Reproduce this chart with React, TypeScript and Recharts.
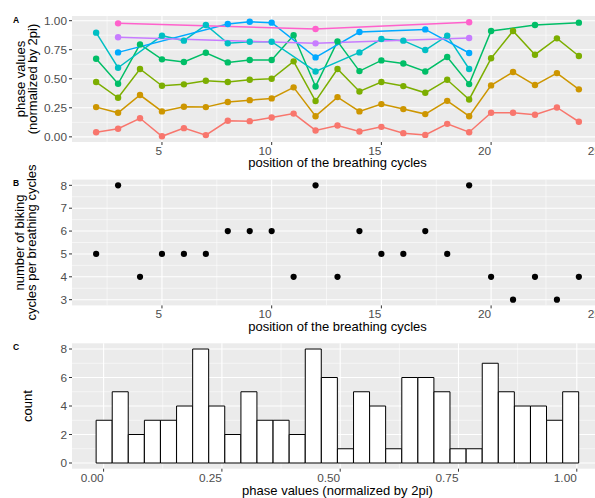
import React from 'react';
import {
  LineChart,
  Line,
  XAxis,
  YAxis,
  CartesianGrid,
  ScatterChart,
  Scatter,
  BarChart,
  Bar,
  Label,
} from 'recharts';

// ---------- data ----------
const positions = [2, 3, 4, 5, 6, 7, 8, 9, 10, 11, 12, 13, 14, 15, 16, 17, 18, 19, 20, 21, 22, 23, 24];

const cycle1 = [0.04, 0.07, 0.16, 0.005, 0.075, 0.015, 0.138, 0.135, 0.167, 0.2, 0.055, 0.098, 0.046, 0.086, 0.032, 0.017, 0.112, 0.04, 0.207, 0.207, 0.19, 0.253, 0.13];
const cycle2 = [0.256, 0.207, 0.36, 0.219, 0.259, 0.256, 0.3, 0.316, 0.331, 0.426, 0.178, 0.342, 0.219, 0.282, 0.239, 0.196, 0.31, 0.178, 0.443, 0.558, 0.446, 0.549, 0.409];
const cycle3 = [0.472, 0.336, 0.584, 0.44, 0.452, 0.483, 0.472, 0.491, 0.5, 0.65, 0.308, 0.584, 0.391, 0.472, 0.437, 0.379, 0.491, 0.322, 0.676, 0.911, 0.707, 0.848, 0.696];
const cycle4 = [0.672, 0.457, 0.796, 0.667, 0.644, 0.724, 0.641, 0.661, 0.661, 0.874, 0.434, 0.822, 0.566, 0.658, 0.632, 0.563, 0.687, 0.454, 0.911, null, 0.963, null, 0.983];
const cycle5 = [0.897, 0.595, null, 0.871, 0.828, 0.963, 0.805, 0.819, 0.819, null, 0.563, null, 0.727, 0.842, 0.828, 0.747, 0.871, 0.584, null, null, null, null, null];
const cycle6 = [null, 0.727, null, null, null, null, 0.972, 0.991, 0.983, null, 0.684, null, 0.902, null, null, 0.925, null, 0.722, null, null, null, null, null];
const cycle7 = [null, 0.857, null, null, null, null, null, null, null, null, 0.805, null, null, null, null, null, null, 0.851, null, null, null, null, null];
const cycle8 = [null, 0.977, null, null, null, null, null, null, null, null, 0.928, null, null, null, null, null, null, 0.986, null, null, null, null, null];

const bikingCycles = [5, 8, 4, 5, 5, 5, 6, 6, 6, 4, 8, 4, 6, 5, 5, 6, 5, 8, 4, 3, 4, 3, 4];

const histCounts = [3, 5, 2, 3, 3, 4, 8, 4, 2, 5, 3, 3, 2, 8, 6, 1, 5, 4, 1, 6, 6, 5, 1, 1, 7, 5, 4, 4, 3, 5];
const HIST_START = -0.0158;
const HIST_BIN_WIDTH = 0.034;

const seriesColors = ['#F8766D', '#CD9600', '#7CAE00', '#00BE67', '#00BFC4', '#00A9FF', '#C77CFF', '#FF61CC'];

const posTicks = [5, 10, 15, 20, 25];
const posMinor = [2.5, 7.5, 12.5, 17.5, 22.5];
const phaseTicks = [0, 0.25, 0.5, 0.75, 1];
const phaseMinor = [0.125, 0.375, 0.625, 0.875];
const bikeTicks = [3, 4, 5, 6, 7, 8];
const bikeMinor = [3.5, 4.5, 5.5, 6.5, 7.5];
const countTicks = [0, 2, 4, 6, 8];
const countMinor = [1, 3, 5, 7];

// ---------- tables ----------
const seriesValues = [cycle1, cycle2, cycle3, cycle4, cycle5, cycle6, cycle7, cycle8];
const phaseTable = positions.map((p, i) => {
  const row: Record<string, number | null> = { position: p };
  seriesValues.forEach((s, k) => {
    row[`c${k + 1}`] = s[i];
  });
  return row;
});
const bikingTable = positions.map((p, i) => ({ position: p, cycles: bikingCycles[i] }));
const histTable = histCounts.map((c, i) => ({ center: HIST_START + (i + 0.5) * HIST_BIN_WIDTH, count: c }));

// ---------- styling ----------
const FONT = '"Liberation Sans", Arial, Helvetica, sans-serif';
const TICK_COLOR = '#4D4D4D';
const W = 620;

const XTick = (props: any) => {
  const { x, y, payload, fmt } = props;
  return (
    <text x={x} y={y} dy="0.71em" textAnchor="end" fill={TICK_COLOR} fontSize={11.8} fontFamily={FONT}>
      {fmt ? fmt(payload.value) : payload.value}
    </text>
  );
};

const YTick = (props: any) => {
  const { x, y, payload, fmt } = props;
  return (
    <text x={x} y={y} dy="0.355em" textAnchor="end" fill={TICK_COLOR} fontSize={11.8} fontFamily={FONT}>
      {fmt ? fmt(payload.value) : payload.value}
    </text>
  );
};

const fmt2 = (v: number) => v.toFixed(2);

const YTitle = ({ lines, xs, cy, letter, letterY }: any) => (
  <g>
    <text x={13} y={letterY} fontSize={8.5} fontWeight="bold" fontFamily={FONT} fill="#000">
      {letter}
    </text>
    {lines.map((t: string, i: number) => (
      <text
        key={i}
        transform={`translate(${xs[i]},${cy}) rotate(-90)`}
        textAnchor="middle"
        fontSize={13}
        fontFamily={FONT}
        fill="#000"
      >
        {t}
      </text>
    ))}
  </g>
);

const XTitle = ({ text, y }: any) => (
  <text x={337.5} y={y} textAnchor="middle" fontSize={13} fontFamily={FONT} fill="#000">
    {text}
  </text>
);

const tickLineStyle = { stroke: '#333333', strokeWidth: 1 };

// vertical offsets of each chart's svg on the page
const TOP_A = 0;
const TOP_B = 150;
const TOP_C = 320;

export default function App() {
  return (
    <div style={{ position: 'absolute', left: 0, top: 0, width: 595, height: 498, overflow: 'hidden', background: '#fff' }}>
      {/* Panel A */}
      <div style={{ position: 'absolute', left: 0, top: TOP_A }}>
        <LineChart width={W} height={172} data={phaseTable} margin={{ top: 16, right: 17, left: 0, bottom: 0 }}>
          <CartesianGrid fill="#EBEBEB" stroke="#FFFFFF" strokeWidth={0.55} horizontalValues={phaseMinor} verticalValues={posMinor} />
          <CartesianGrid stroke="#FFFFFF" strokeWidth={1.1} horizontalValues={phaseTicks} verticalValues={posTicks} />
          <XAxis
            type="number"
            dataKey="position"
            domain={[0.9, 25.1]}
            ticks={posTicks}
            interval={0}
            allowDataOverflow
            axisLine={false}
            tickLine={tickLineStyle}
            tickSize={3}
            tickMargin={1.5}
            height={30}
            tick={<XTick />}
          >
            <Label content={() => <XTitle text="position of the breathing cycles" y={167} />} />
          </XAxis>
          <YAxis
            type="number"
            domain={[-0.0443, 1.0403]}
            ticks={phaseTicks}
            interval={0}
            allowDataOverflow
            axisLine={false}
            tickLine={tickLineStyle}
            tickSize={3}
            tickMargin={2}
            width={72}
            tick={<YTick fmt={fmt2} />}
          >
            <Label
              content={() => (
                <YTitle lines={['phase values', '(normalized by 2pi)']} xs={[25, 36.6]} cy={79} letter="A" letterY={22.7} />
              )}
            />
          </YAxis>
          {seriesValues.map((_, k) => (
            <Line
              key={k}
              type="linear"
              dataKey={`c${k + 1}`}
              stroke={seriesColors[k]}
              strokeWidth={1.5}
              connectNulls
              dot={{ r: 3.2, fill: seriesColors[k], stroke: seriesColors[k], strokeWidth: 0 }}
              activeDot={false}
              isAnimationActive={false}
            />
          ))}
        </LineChart>
      </div>

      {/* Panel B */}
      <div style={{ position: 'absolute', left: 0, top: TOP_B }}>
        <ScatterChart width={W} height={185} margin={{ top: 179.6 - TOP_B, right: 17, left: 0, bottom: 0 }}>
          <CartesianGrid fill="#EBEBEB" stroke="#FFFFFF" strokeWidth={0.55} horizontalValues={bikeMinor} verticalValues={posMinor} />
          <CartesianGrid stroke="#FFFFFF" strokeWidth={1.1} horizontalValues={bikeTicks} verticalValues={posTicks} />
          <XAxis
            type="number"
            dataKey="position"
            domain={[0.9, 25.1]}
            ticks={posTicks}
            interval={0}
            allowDataOverflow
            axisLine={false}
            tickLine={tickLineStyle}
            tickSize={3}
            tickMargin={1.5}
            height={185 - (305.4 - TOP_B)}
            tick={<XTick />}
          >
            <Label content={() => <XTitle text="position of the breathing cycles" y={331 - TOP_B} />} />
          </XAxis>
          <YAxis
            type="number"
            dataKey="cycles"
            domain={[2.75, 8.25]}
            ticks={bikeTicks}
            interval={0}
            allowDataOverflow
            axisLine={false}
            tickLine={tickLineStyle}
            tickSize={3}
            tickMargin={2}
            width={72}
            tick={<YTick />}
          >
            <Label
              content={() => (
                <YTitle
                  lines={['number of biking', 'cycles per breathing cycles']}
                  xs={[23.5, 35.6]}
                  cy={242.5 - TOP_B}
                  letter="B"
                  letterY={186 - TOP_B}
                />
              )}
            />
          </YAxis>
          <Scatter
            data={bikingTable}
            fill="#000"
            isAnimationActive={false}
            shape={(p: any) => <circle cx={p.cx} cy={p.cy} r={3.1} fill="#000" />}
          />
        </ScatterChart>
      </div>

      {/* Panel C */}
      <div style={{ position: 'absolute', left: 0, top: TOP_C }}>
        <BarChart
          width={W}
          height={498 - TOP_C}
          data={histTable}
          margin={{ top: 343.3 - TOP_C, right: 17, left: 0, bottom: 0 }}
          barCategoryGap={0}
          barGap={0}
        >
          <CartesianGrid fill="#EBEBEB" stroke="#FFFFFF" strokeWidth={0.55} horizontalValues={countMinor} verticalValues={phaseMinor} />
          <CartesianGrid stroke="#FFFFFF" strokeWidth={1.1} horizontalValues={countTicks} verticalValues={phaseTicks} />
          <XAxis
            type="number"
            dataKey="center"
            domain={[-0.0668, 1.0554]}
            ticks={phaseTicks}
            interval={0}
            allowDataOverflow
            axisLine={false}
            tickLine={tickLineStyle}
            tickSize={3}
            tickMargin={1.5}
            height={498 - 468.7}
            tick={<XTick fmt={fmt2} />}
          >
            <Label content={() => <XTitle text="phase values (normalized by 2pi)" y={495.3 - TOP_C} />} />
          </XAxis>
          <YAxis
            type="number"
            domain={[-0.4, 8.4]}
            ticks={countTicks}
            interval={0}
            allowDataOverflow
            axisLine={false}
            tickLine={tickLineStyle}
            tickSize={3}
            tickMargin={2}
            width={72}
            tick={<YTick />}
          >
            <Label content={() => <YTitle lines={['count']} xs={[31.5]} cy={406 - TOP_C} letter="C" letterY={350 - TOP_C} />} />
          </YAxis>
          <Bar dataKey="count" fill="#FFFFFF" stroke="#000000" strokeWidth={1} isAnimationActive={false} />
        </BarChart>
      </div>
    </div>
  );
}
